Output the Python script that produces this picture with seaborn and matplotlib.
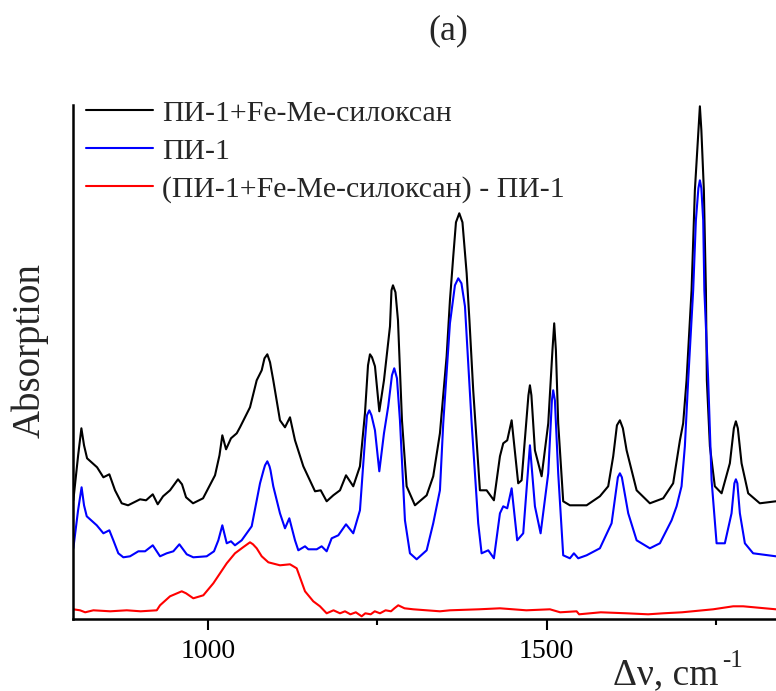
import numpy as np
import pandas as pd
import matplotlib
matplotlib.use("Agg")
import matplotlib.pyplot as plt
import seaborn as sns

# ---- data ----
label_black = "ПИ-1+Fe-Me-силоксан"
label_blue = "ПИ-1"
label_red = "(ПИ-1+Fe-Me-силоксан) - ПИ-1"

black_wn = [800.5, 807.6, 812.4, 816.3, 820.8, 835.6, 844.9, 853.7, 862.1, 872.0,
            881.4, 899.1, 908.0, 917.9, 925.2, 933.1, 943.4, 955.2, 961.1, 967.1,
            977.4, 992.2, 1009.9, 1016.5, 1020.7, 1026.2, 1033.5, 1042.0, 1046.8, 1061.6,
            1071.5, 1078.9, 1083.0, 1087.2, 1091.2, 1096.0, 1105.9, 1113.3, 1120.7, 1128.1,
            1140.4, 1157.7, 1166.1, 1174.9, 1184.7, 1194.6, 1203.5, 1214.2, 1224.1, 1231.5,
            1236.0, 1238.9, 1241.9, 1246.3, 1252.7, 1259.6, 1268.5, 1270.7, 1272.9, 1276.6,
            1280.3, 1286.2, 1293.1, 1305.4, 1322.7, 1332.4, 1342.3, 1352.2, 1357.1, 1362.0,
            1366.0, 1370.9, 1375.6, 1381.8, 1385.9, 1391.5, 1401.4, 1411.3, 1422.1, 1431.0,
            1435.9, 1441.8, 1448.3, 1458.0, 1463.0, 1473.1, 1475.3, 1477.5, 1482.7, 1492.6,
            1502.4, 1508.6, 1511.2, 1513.7, 1517.1, 1524.5, 1534.4, 1559.1, 1578.7, 1591.0,
            1598.4, 1603.9, 1608.3, 1612.7, 1618.2, 1633.0, 1652.6, 1672.3, 1687.0, 1697.0,
            1701.8, 1706.8, 1714.2, 1719.1, 1724.3, 1726.5, 1728.7, 1732.4, 1735.4, 1736.8,
            1741.3, 1748.6, 1758.6, 1770.8, 1776.7, 1779.7, 1782.6, 1788.1, 1797.9, 1815.1,
            1838.8]
black_abs = [1.19, 1.64, 1.91, 1.74, 1.61, 1.52, 1.42, 1.45, 1.29, 1.16,
             1.14, 1.20, 1.19, 1.25, 1.15, 1.23, 1.29, 1.40, 1.35, 1.22,
             1.16, 1.21, 1.44, 1.64, 1.84, 1.70, 1.81, 1.86, 1.92, 2.12,
             2.39, 2.49, 2.61, 2.65, 2.57, 2.39, 1.99, 1.92, 2.02, 1.79,
             1.53, 1.28, 1.29, 1.18, 1.24, 1.29, 1.44, 1.33, 1.53, 2.06,
             2.54, 2.65, 2.62, 2.53, 2.08, 2.39, 2.93, 3.29, 3.34, 3.27,
             2.99, 1.99, 1.33, 1.14, 1.24, 1.43, 1.86, 2.63, 3.19, 3.63,
             3.97, 4.06, 3.97, 3.46, 2.99, 2.29, 1.29, 1.29, 1.19, 1.63,
             1.76, 1.79, 1.99, 1.36, 1.39, 2.24, 2.34, 2.24, 1.69, 1.43,
             1.96, 2.69, 2.96, 2.69, 1.96, 1.18, 1.14, 1.14, 1.23, 1.33,
             1.63, 1.94, 1.99, 1.91, 1.69, 1.29, 1.16, 1.21, 1.36, 1.79,
             1.96, 2.39, 3.29, 4.29, 4.89, 5.13, 4.89, 4.29, 3.29, 2.39,
             1.73, 1.33, 1.26, 1.56, 1.91, 1.98, 1.91, 1.56, 1.26, 1.16,
             1.18]

blue_wn = [800.5, 807.5, 812.7, 816.3, 820.3, 835.1, 844.9, 853.7, 859.6, 867.0,
           874.4, 884.3, 896.6, 906.5, 917.9, 928.6, 938.5, 948.3, 957.2, 968.1,
           977.8, 997.6, 1008.4, 1014.8, 1020.7, 1027.2, 1033.5, 1039.4, 1049.3, 1064.1,
           1076.4, 1081.6, 1083.8, 1087.2, 1090.4, 1091.9, 1096.0, 1105.9, 1113.3, 1119.7,
           1128.1, 1133.0, 1142.9, 1147.8, 1160.2, 1167.5, 1174.9, 1182.3, 1192.1, 1203.5,
           1214.2, 1224.1, 1231.5, 1234.5, 1237.9, 1241.1, 1246.3, 1252.7, 1259.6, 1265.9,
           1271.4, 1274.8, 1278.8, 1283.2, 1290.6, 1298.0, 1307.9, 1322.7, 1332.4, 1342.3,
           1347.2, 1357.1, 1364.5, 1369.4, 1374.1, 1379.3, 1389.2, 1398.9, 1403.9, 1413.7,
           1422.1, 1431.0, 1435.9, 1441.8, 1448.3, 1456.5, 1465.4, 1475.3, 1482.7, 1491.1,
           1502.4, 1507.8, 1509.7, 1512.2, 1517.1, 1524.5, 1534.4, 1540.3, 1546.7, 1559.1,
           1578.7, 1596.0, 1605.3, 1608.3, 1611.2, 1620.6, 1633.0, 1652.6, 1667.4, 1684.7,
           1692.1, 1699.4, 1704.3, 1709.2, 1716.6, 1720.6, 1724.3, 1726.5, 1728.7, 1731.4,
           1733.1, 1738.8, 1743.8, 1751.2, 1763.4, 1773.3, 1777.5, 1779.7, 1781.9, 1785.6,
           1793.0, 1805.2, 1838.8]
blue_abs = [0.71, 1.09, 1.32, 1.14, 1.03, 0.94, 0.86, 0.89, 0.79, 0.66,
            0.62, 0.63, 0.68, 0.68, 0.74, 0.63, 0.66, 0.68, 0.75, 0.65,
            0.62, 0.63, 0.68, 0.79, 0.94, 0.76, 0.78, 0.74, 0.79, 0.93,
            1.36, 1.49, 1.54, 1.58, 1.53, 1.49, 1.33, 1.06, 0.91, 1.01,
            0.79, 0.69, 0.73, 0.70, 0.70, 0.73, 0.68, 0.81, 0.84, 0.95,
            0.86, 1.09, 1.79, 2.04, 2.09, 2.04, 1.89, 1.48, 1.86, 2.13,
            2.44, 2.51, 2.41, 1.99, 0.99, 0.66, 0.60, 0.69, 0.96, 1.29,
            1.96, 2.96, 3.34, 3.41, 3.36, 3.13, 1.96, 0.96, 0.66, 0.69,
            0.61, 1.06, 1.13, 1.11, 1.31, 0.79, 0.86, 1.74, 1.13, 0.86,
            1.46, 2.19, 2.29, 2.19, 1.46, 0.64, 0.61, 0.66, 0.61, 0.64,
            0.71, 0.96, 1.42, 1.46, 1.42, 1.06, 0.79, 0.71, 0.76, 0.99,
            1.13, 1.33, 1.73, 2.39, 3.29, 3.99, 4.31, 4.39, 4.31, 3.99,
            3.29, 2.39, 1.39, 0.76, 0.76, 1.06, 1.36, 1.40, 1.36, 1.06,
            0.76, 0.66, 0.63]

red_wn = [800.5, 810.4, 818.0, 830.1, 855.0, 879.4, 900.0, 923.8, 928.6, 943.4,
          960.7, 967.1, 977.8, 992.6, 1007.4, 1027.2, 1039.4, 1051.3, 1061.6, 1066.0,
          1071.5, 1078.9, 1088.7, 1105.9, 1120.7, 1130.6, 1142.9, 1155.1, 1165.0, 1174.9,
          1185.0, 1194.6, 1202.0, 1210.0, 1218.0, 1226.6, 1232.0, 1240.0, 1246.0, 1253.7,
          1262.0, 1270.0, 1275.0, 1280.7, 1290.0, 1302.9, 1342.3, 1357.1, 1400.0, 1431.0,
          1470.0, 1504.9, 1520.0, 1544.3, 1548.0, 1580.0, 1618.2, 1650.0, 1672.3, 1700.0,
          1746.1, 1775.7, 1790.5, 1838.8]
red_abs = [0.10, 0.09, 0.07, 0.09, 0.08, 0.09, 0.08, 0.09, 0.14, 0.23,
           0.28, 0.26, 0.21, 0.24, 0.36, 0.56, 0.66, 0.72, 0.77, 0.75,
           0.71, 0.63, 0.57, 0.54, 0.55, 0.51, 0.28, 0.18, 0.13, 0.06,
           0.09, 0.06, 0.08, 0.05, 0.07, 0.03, 0.06, 0.05, 0.08, 0.06,
           0.09, 0.08, 0.11, 0.14, 0.11, 0.10, 0.08, 0.09, 0.10, 0.11,
           0.09, 0.10, 0.07, 0.08, 0.05, 0.07, 0.06, 0.05, 0.06, 0.07,
           0.10, 0.13, 0.13, 0.10]

x_major = [1000, 1500]
x_minor = [1250, 1750]
x_limits = (800, 1839)
y_limits = (0, 5.143)

# ---- style ----
sns.set_theme(style="white")
plt.rcParams["font.family"] = ["Liberation Serif", "DejaVu Serif"]

fig = plt.figure(figsize=(7.76, 6.91), dpi=100)
ax = fig.add_axes([73 / 776, (691 - 619.3) / 691, 1 - 73 / 776, (619.3 - 105) / 691])

df_black = pd.DataFrame({"wn": black_wn, "A": black_abs})
df_blue = pd.DataFrame({"wn": blue_wn, "A": blue_abs})
df_red = pd.DataFrame({"wn": red_wn, "A": red_abs})

kw = dict(lw=1.5, ax=ax, sort=False)
sns.lineplot(data=df_black, x="wn", y="A", color="black", label=label_black, **kw)
sns.lineplot(data=df_blue, x="wn", y="A", color="#0000ff", label=label_blue, **kw)
sns.lineplot(data=df_red, x="wn", y="A", color="#ff0000", label=label_red, **kw)
for ln in ax.get_lines():
    ln.set_solid_joinstyle("round")

ax.set_xlim(*x_limits)
ax.set_ylim(*y_limits)
ax.set_xticks(x_major)
ax.set_xticks(x_minor, minor=True)
ax.set_xticklabels([str(v) for v in x_major], fontsize=20)
ax.set_yticks([])
ax.tick_params(axis="x", which="major", direction="out", length=8, width=1.5, pad=6, bottom=True, colors="black")
ax.tick_params(axis="x", which="minor", direction="out", length=4, width=1.5, bottom=True, colors="black")

for side in ["top", "right"]:
    ax.spines[side].set_visible(False)
for side in ["left", "bottom"]:
    ax.spines[side].set_color("black")
    ax.spines[side].set_linewidth(1.8)

ax.set_xlabel("")
ax.set_ylabel("")
fig.text(30 / 776, 1 - 350 / 691, "Absorption", rotation=90, ha="center", va="center", fontsize=28)
fig.text(448 / 776, 1 - 31 / 691, "(a)", ha="center", va="center", fontsize=26)

# x-axis title with a hyphen superscript
xl = fig.text(613 / 776, 1 - 684 / 691, "Δν, cm", ha="left", va="baseline", fontsize=27)
fig.canvas.draw()
bb = xl.get_window_extent(renderer=fig.canvas.get_renderer())
fig.text((bb.x1 + 4) / 776, 1 - 667 / 691, "-1", ha="left", va="baseline", fontsize=18)

leg = ax.legend(loc="upper left", bbox_to_anchor=(86 / 776, 1 - 100 / 691),
                bbox_transform=fig.transFigure, frameon=False, fontsize=21.5,
                handlelength=2.25, handletextpad=0.3, labelspacing=0.37,
                borderpad=0, borderaxespad=0)
for line in leg.get_lines():
    line.set_linewidth(1.5)

fig.savefig("out.png", dpi=100)
